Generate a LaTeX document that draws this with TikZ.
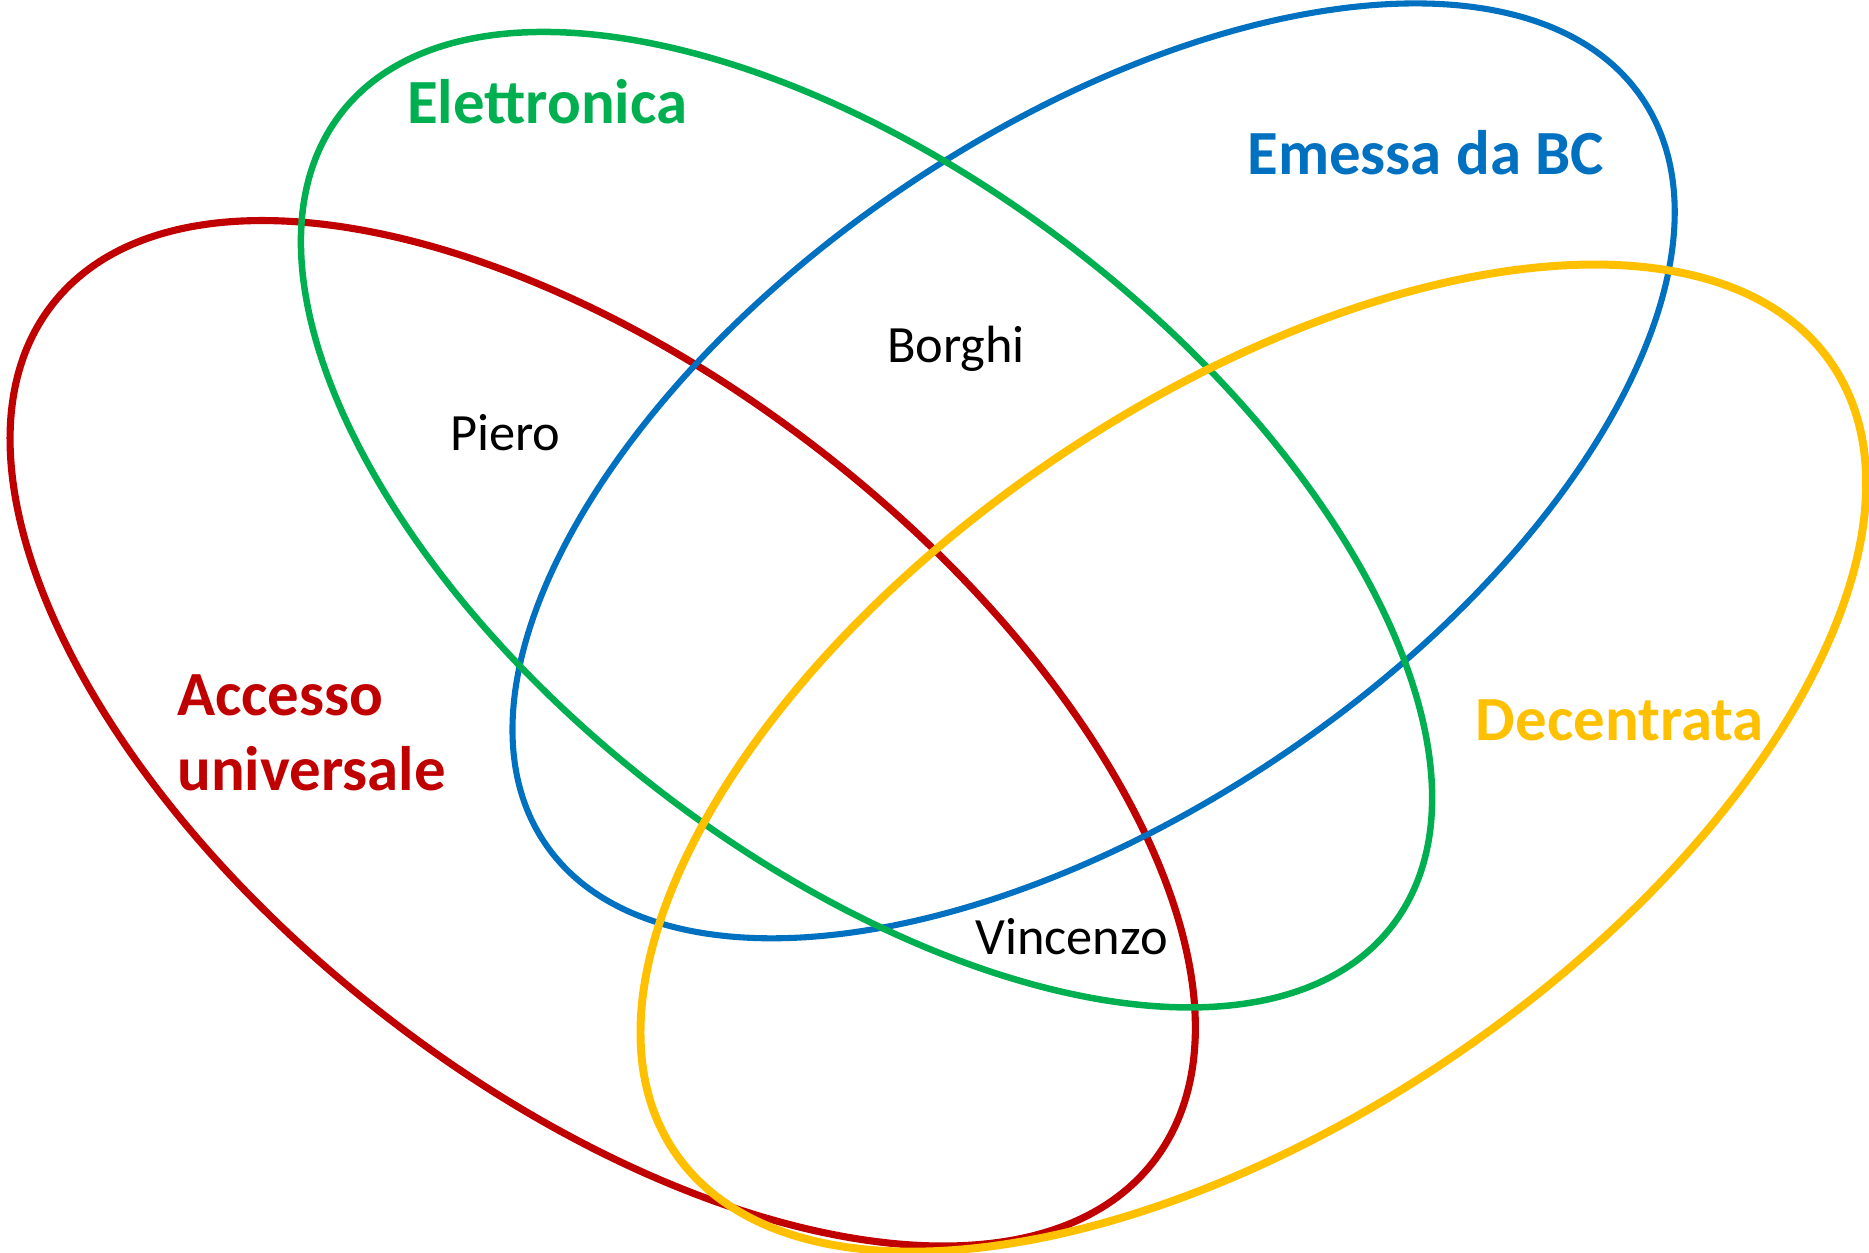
\documentclass[tikz,border=0pt]{standalone}
\usepackage{fontspec}
\setmainfont{Carlito}
\definecolor{cred}{HTML}{C00000}
\definecolor{cgreen}{HTML}{00B050}
\definecolor{cblue}{HTML}{0070C0}
\definecolor{cyellow}{HTML}{FFC000}
\tikzset{
  setline/.style={line width=1.6pt},
  setlabel/.style={font=\fontsize{15}{17.9}\selectfont\bfseries, inner sep=0pt},
  member/.style={font=\fontsize{12.5}{15}\selectfont, text=black, inner sep=0pt}
}
\begin{document}
\begin{tikzpicture}[x=0.01cm,y=0.01cm]
\useasboundingbox (0,0) rectangle (1568,1051);
\coordinate (cR) at (505.7,435.8);
\coordinate (cG) at (727,615);
\coordinate (cB) at (917.5,656);
\coordinate (cY) at (1051.5,415);
\draw[setline, line width=1.7pt, cred, rotate around={-37.9:(cR)}] (cR) ellipse [x radius=5.85cm, y radius=2.99cm];
\draw[setline, line width=1.45pt, cblue, rotate around={34.2:(cB)}] (cB) ellipse [x radius=5.56cm, y radius=2.86cm];
\draw[setline, line width=1.55pt, cgreen, rotate around={-37.7:(cG)}] (cG) ellipse [x radius=5.57cm, y radius=2.86cm];
\draw[setline, line width=1.9pt, cyellow, rotate around={34.3:(cY)}] (cY) ellipse [x radius=5.87cm, y radius=3.01cm];
\node[setlabel, text=cgreen] (elet) at (459,966) {Elettronica};
\node[setlabel, text=cblue] (emessa) at (1196,923) {Emessa da BC};
\node[setlabel, text=cyellow] (dec) at (1359,447) {Decentrata};
\node[setlabel, text=cred, anchor=west, align=left] (acc) at (148,436) {Accesso\\universale};
\node[member] (piero) at (424,688) {Piero};
\node[member] (borghi) at (802,758) {Borghi};
\node[member] (vinc) at (899,265) {Vincenzo};
\end{tikzpicture}
\end{document}
